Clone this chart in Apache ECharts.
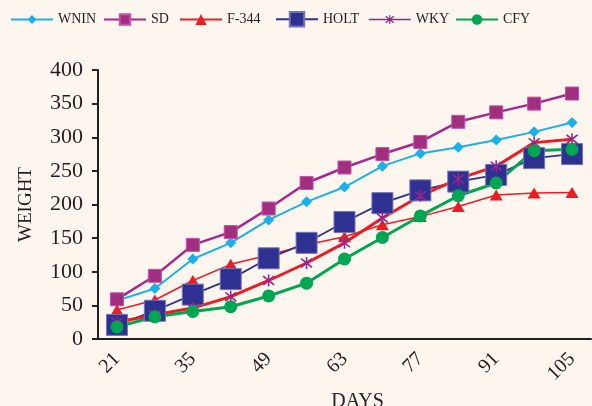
<!DOCTYPE html>
<html><head><meta charset="utf-8">
<script src="https://cdn.jsdelivr.net/npm/echarts@6/dist/echarts.min.js"></script>
<style>html,body{margin:0;padding:0;background:#fdf6ee}#c{width:592px;height:406px}</style>
</head><body><div id="c"></div>
<script>
const days = ['21','28','35','42','49','56','63','70','77','84','91','98','105'];
const wnin = [57, 75, 119, 143, 177, 204, 226, 257, 276, 285, 296, 308, 322];
const sd   = [59, 94, 140, 159, 194, 232, 255, 275, 293, 323, 337, 350, 365];
const f344 = [43, 58, 87, 111, 125, 140, 152, 170, 182, 197, 214, 217, 218];
const holt = [21, 42, 66, 89, 120, 143, 174, 202, 221, 234, 244, 269, 275];
const wky  = [25, 36, 46, 63, 87, 113, 143, 180, 213, 238, 257, 292, 297];
const cfy  = [18, 33, 41, 48, 64, 83, 119, 151, 183, 213, 232, 280, 282];
const yTicks = [0, 50, 100, 150, 200, 250, 300, 350, 400];

const FONT = '"Liberation Serif", "DejaVu Serif", serif';
const INK = '#231f20';
const star = 'path://M5.3,0 H6.7 V12 H5.3 Z M0.5,2.2 L1.5,1 L11.5,9.8 L10.5,11 Z M10.5,1 L11.5,2.2 L1.5,11 L0.5,9.8 Z';

const chart = echarts.init(document.getElementById('c'), null, {renderer:'canvas'});
const names = ['WNIN','SD','F-344','HOLT','WKY','CFY'];
const lefts = [10, 103, 179, 275, 368, 455];
const iconH = [11, 13, 14, 18, 11, 13];
const legends = names.map((n, i) => ({
  left: lefts[i], top: 20 - Math.max(iconH[i], 15) / 2,
  itemWidth: 42, itemHeight: iconH[i], itemGap: 0, padding: 0,
  textStyle: {fontFamily: FONT, fontSize: 14, color: INK},
  data: n === 'WKY' ? [{name: n, lineStyle: {color: '#93278f', width: 1.5}}] : [n]
}));

chart.setOption({
  backgroundColor: '#fdf6ee',
  animation: false,
  legend: legends,
  grid: {left: 98, right: 1, top: 70, bottom: 67, outerBoundsMode: 'none', containLabel: false},
  xAxis: {
    type: 'category', data: days, boundaryGap: true,
    name: 'DAYS', nameLocation: 'middle', nameGap: 50,
    nameTextStyle: {fontFamily: FONT, fontSize: 20, color: INK, padding: [0, 0, 0, 26]},
    axisLine: {lineStyle: {color: INK, width: 2}},
    axisTick: {interval: 0, length: 6, lineStyle: {color: INK, width: 2}},
    axisLabel: {interval: 1, rotate: 45, margin: 17, fontFamily: FONT, fontSize: 20, color: INK}
  },
  yAxis: {
    type: 'value', min: yTicks[0], max: yTicks[yTicks.length-1], interval: 50,
    name: 'WEIGHT', nameLocation: 'middle', nameGap: 62,
    nameTextStyle: {fontFamily: FONT, fontSize: 19, color: INK},
    axisLine: {show: true, lineStyle: {color: INK, width: 2}},
    axisTick: {show: true, length: 6, lineStyle: {color: INK, width: 2}},
    splitLine: {show: false},
    axisLabel: {margin: 15, fontFamily: FONT, fontSize: 22, color: INK}
  },
  series: [
    {name: 'WNIN', type: 'line', data: wnin, symbol: 'diamond', symbolSize: 11,
     lineStyle: {color: '#1cb0eb', width: 2}, itemStyle: {color: '#1cb0eb'}},
    {name: 'SD', type: 'line', data: sd, symbol: 'rect', symbolSize: 13,
     lineStyle: {color: '#a8268f', width: 2.5}, itemStyle: {color: '#a0307f', borderColor: '#c64fac', borderWidth: 1}},
    {name: 'F-344', type: 'line', data: f344, symbol: 'triangle', symbolSize: [13, 11],
     lineStyle: {color: '#ed1c24', width: 1.5}, itemStyle: {color: '#ed1c24'}},
    {name: 'HOLT', type: 'line', data: holt, symbol: 'rect', symbolSize: 21,
     lineStyle: {color: '#2e3192', width: 1.8}, itemStyle: {color: '#2e3192', borderColor: '#7375b8', borderWidth: 1}},
    {name: 'WKY', type: 'line', data: wky, symbol: star, symbolSize: 12,
     lineStyle: {color: '#ed1c24', width: 3}, itemStyle: {color: '#93278f'}},
    {name: 'CFY', type: 'line', data: cfy, symbol: 'circle', symbolSize: 13,
     lineStyle: {color: '#00a651', width: 3}, itemStyle: {color: '#00a651'}}
  ]
});
</script></body></html>
